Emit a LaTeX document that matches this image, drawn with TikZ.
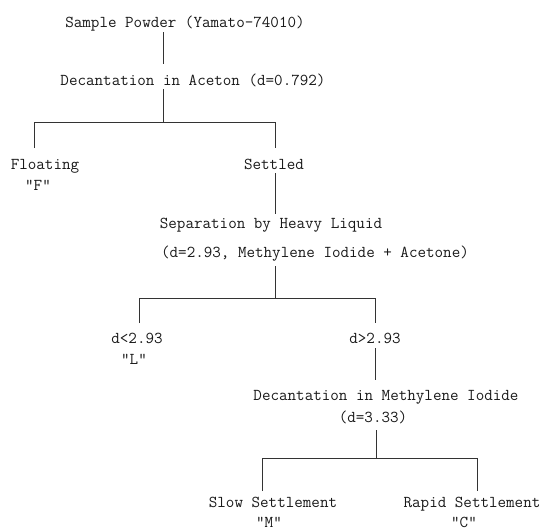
\documentclass[tikz,border=0pt]{standalone}
\begin{document}
\begin{tikzpicture}[x=1pt,y=-1pt,
  txt/.style={font=\ttfamily\fontsize{16.6}{18}\selectfont, inner sep=0pt, anchor=base, text=black!90},
  ln/.style={line width=0.75pt, draw=black!80}]
\useasboundingbox (0,0) rectangle (542,531);
% texts
\node[txt] (title) at (185,27) {Sample Powder (Yamato-74010)};
\node[txt] (dec1) at (193,85) {Decantation in Aceton (d=0.792)};
\node[txt] (float) at (45,169) {Floating};
\node[txt] (F) at (38,190) {"F"};
\node[txt] (settled) at (274,169) {Settled};
\node[txt] (sep) at (271,228) {Separation by Heavy Liquid};
\node[txt] (sep2) at (315,257) {(d=2.93, Methylene Iodide + Acetone)};
\node[txt] (dlt) at (137,343) {d<2.93};
\node[txt] (L) at (134,364) {"L"};
\node[txt] (dgt) at (375,343) {d>2.93};
\node[txt] (dec2) at (386,400) {Decantation in Methylene Iodide};
\node[txt] (d333) at (373,422) {(d=3.33)};
\node[txt] (slow) at (273,507) {Slow Settlement};
\node[txt] (M) at (269,527.5) {"M"};
\node[txt] (rapid) at (472,507) {Rapid Settlement};
\node[txt] (C) at (464,527.5) {"C"};
% junction coordinates
\coordinate (a1) at (163,32);  \coordinate (a2) at (163,64);
\coordinate (b1) at (163,89);  \coordinate (b2) at (163,122);
\coordinate (bl) at (34,122);  \coordinate (br) at (275,122);
\coordinate (bl2) at (34,148); \coordinate (br2) at (275,148);
\coordinate (c1) at (275,173); \coordinate (c2) at (275,214);
\coordinate (d1) at (275,266); \coordinate (d2) at (275,298);
\coordinate (dl) at (139,298); \coordinate (dr) at (375,298);
\coordinate (dl2) at (139,323); \coordinate (dr2) at (375,323);
\coordinate (e1) at (375,348); \coordinate (e2) at (375,380);
\coordinate (f1) at (376,430); \coordinate (f2) at (376,458);
\coordinate (fl) at (262,458); \coordinate (fr) at (477,458);
\coordinate (fl2) at (262,491); \coordinate (fr2) at (477,491);
% connectors
\draw[ln] (a1) -- (a2);
\draw[ln] (b1) -- (b2);
\draw[ln] (bl2) -- (bl) -- (br) -- (br2);
\draw[ln] (c1) -- (c2);
\draw[ln] (d1) -- (d2);
\draw[ln] (dl2) -- (dl) -- (dr) -- (dr2);
\draw[ln] (e1) -- (e2);
\draw[ln] (f1) -- (f2);
\draw[ln] (fl2) -- (fl) -- (fr) -- (fr2);
\end{tikzpicture}
\end{document}
